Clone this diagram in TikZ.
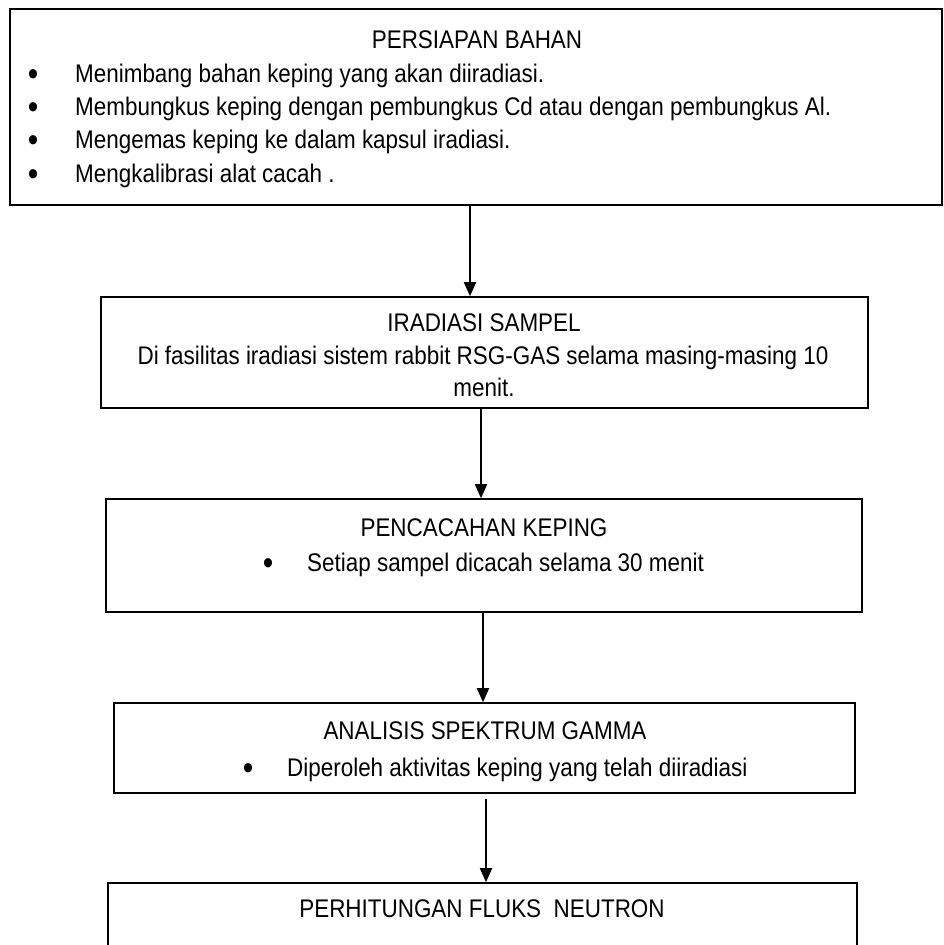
\documentclass[tikz,border=0pt]{standalone}
\usepackage{fontspec}
\setmainfont{Liberation Sans}[FakeStretch=0.88]
\usepackage{tikz}
\usetikzlibrary{arrows.meta}
\newcommand{\flowfont}{\fontsize{25.5pt}{30pt}\selectfont}
\newcommand{\bulfont}{\fontsize{34pt}{36pt}\selectfont}
\tikzset{
    box/.style = {rectangle, draw=black, line width=1.6pt, inner sep=0pt},
    ttext/.style = {inner sep=0pt, anchor=base, font=\flowfont},
    ltext/.style = {inner sep=0pt, anchor=base west, font=\flowfont},
    bul/.style = {inner sep=0pt, anchor=base, font=\bulfont, yshift=-3pt},
    flow/.style = {->, line width=1.8pt}
}
\begin{document}
\begin{tikzpicture}[x=1pt, y=-1pt, >={Triangle[width=12pt,length=14pt]}]
    \useasboundingbox (0,0) rectangle (944,945);
    % boxes
    \node [box, line width=2.5pt, minimum width=932pt, minimum height=196pt] (bahan) at (476,107) {};
    \node [box, minimum width=767pt, minimum height=111pt] (iradiasi) at (484.5,352.5) {};
    \node [box, minimum width=756pt, minimum height=113pt] (cacah) at (484,555.5) {};
    \node [box, minimum width=741pt, minimum height=90pt] (analisis) at (484.5,748) {};
    \node [box, minimum width=749pt, minimum height=107pt] (fluks) at (482.5,936.5) {};

    % persiapan bahan
    \node [ttext] (bahan_t) at (477,48.5) {PERSIAPAN BAHAN};
    \node [bul] (bahan_b1) at (33,82) {•};
    \node [ltext] (bahan_1) at (75,82) {Menimbang bahan keping yang akan diiradiasi.};
    \node [bul] (bahan_b2) at (33,115.3) {•};
    \node [ltext] (bahan_2) at (75,115.3) {Membungkus keping dengan pembungkus Cd atau dengan pembungkus Al.};
    \node [bul] (bahan_b3) at (33,148.6) {•};
    \node [ltext] (bahan_3) at (75,148.6) {Mengemas keping ke dalam kapsul iradiasi.};
    \node [bul] (bahan_b4) at (33,182) {•};
    \node [ltext] (bahan_4) at (75,182) {Mengkalibrasi alat cacah .};

    % iradiasi sampel
    \node [ttext] (iradiasi_t) at (484,331) {IRADIASI SAMPEL};
    \node [ttext] (iradiasi_1) at (483,364) {Di fasilitas iradiasi sistem rabbit RSG-GAS selama masing-masing 10};
    \node [ttext] (iradiasi_2) at (484,396) {menit.};

    % pencacahan
    \node [ttext] (cacah_t) at (484,536) {PENCACAHAN KEPING};
    \node [bul] (cacah_b1) at (268,571) {•};
    \node [ltext] (cacah_1) at (307,571) {Setiap sampel dicacah selama 30 menit};

    % analisis
    \node [ttext] (analisis_t) at (485,739) {ANALISIS SPEKTRUM GAMMA};
    \node [bul] (analisis_b1) at (248,776) {•};
    \node [ltext] (analisis_1) at (287,776) {Diperoleh aktivitas keping yang telah diiradiasi};

    % fluks
    \node [ttext] (fluks_t) at (482,917) {PERHITUNGAN FLUKS\ \ NEUTRON};

    % arrows
    \draw [flow] (bahan.south -| 470,0) -- (iradiasi.north -| 470,0);
    \draw [flow] (iradiasi.south -| 481,0) -- (cacah.north -| 481,0);
    \draw [flow] (cacah.south -| 483,0) -- (analisis.north -| 483,0);
    \draw [flow] ([yshift=-5pt]analisis.south -| 486,0) -- (fluks.north -| 486,0);
\end{tikzpicture}
\end{document}
